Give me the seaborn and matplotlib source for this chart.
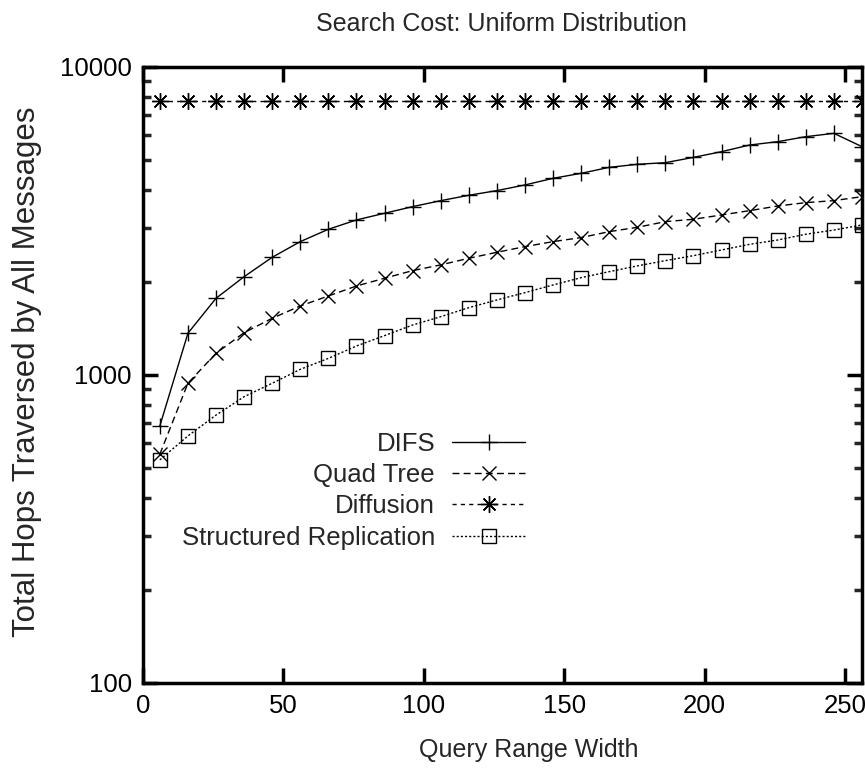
import matplotlib
matplotlib.use("Agg")
import matplotlib.pyplot as plt
import seaborn as sns
import pandas as pd
import numpy as np
from matplotlib.ticker import LogLocator, FixedLocator, NullFormatter

x_values = [6, 16, 26, 36, 46, 56, 66, 76, 86, 96, 106, 116, 126, 136, 146,
            156, 166, 176, 186, 196, 206, 216, 226, 236, 246, 256]

difs = [683, 1366, 1774, 2085, 2410, 2710, 2972, 3187, 3350, 3520, 3681, 3832,
        3968, 4140, 4350, 4516, 4722, 4831, 4890, 5088, 5309, 5580, 5721, 5939,
        6089, 5513]
quad_tree = [553, 940, 1176, 1372, 1528, 1675, 1805, 1945, 2061, 2182, 2277,
             2393, 2502, 2611, 2710, 2793, 2920, 3016, 3147, 3203, 3308, 3416,
             3537, 3627, 3682, 3793]
diffusion = [7750] * 26
structured = [530, 634, 741, 850, 940, 1043, 1132, 1242, 1342, 1453, 1546, 1654,
              1752, 1851, 1960, 2070, 2165, 2260, 2351, 2440, 2546, 2656, 2743,
              2864, 2955, 3070]

series_names = ["DIFS", "Quad Tree", "Diffusion", "Structured Replication"]
series_values = [difs, quad_tree, diffusion, structured]

x_ticks = [0, 50, 100, 150, 200, 250]
y_ticks = [100, 1000, 10000]
y_tick_labels = ["100", "1000", "10000"]

sns.set_style("ticks")
plt.rcParams['font.family'] = ['Liberation Sans', 'DejaVu Sans']

rows = []
for name, vals in zip(series_names, series_values):
    for xv, yv in zip(x_values, vals):
        rows.append({"x": xv, "y": yv, "series": name})
df = pd.DataFrame(rows)

fig = plt.figure(figsize=(8.65, 7.77), dpi=100)
ax = fig.add_axes([0.1653, 0.121, 0.8312, 0.7928])

styles = {
    "DIFS": dict(marker="+", linestyle="-", ms=12),
    "Quad Tree": dict(marker="x", linestyle=(0, (5, 3)), ms=10),
    "Diffusion": dict(marker=(8, 2, 0), linestyle=(0, (3, 3)), ms=12),
    "Structured Replication": dict(marker="s", linestyle=(0, (1.5, 1.5)), ms=10),
}

for name in series_names:
    st = styles[name]
    sub = df[df["series"] == name]
    sns.lineplot(data=sub, x="x", y="y", ax=ax, color="black", lw=1.0,
                 linestyle=st["linestyle"], marker=st["marker"], markersize=st["ms"],
                 markeredgewidth=1.0, markerfacecolor="none",
                 markeredgecolor="black", label=name, estimator=None,
                 sort=False, legend=False)

ax.set_yscale("log")
ax.set_xlim(0, 256)
ax.set_ylim(100, 10000)
ax.set_xticks(x_ticks)
ax.set_xticklabels([str(t) for t in x_ticks])
ax.yaxis.set_major_locator(FixedLocator(y_ticks))
ax.set_yticklabels(y_tick_labels)
ax.yaxis.set_minor_locator(LogLocator(base=10, subs=np.arange(2, 10)))
ax.yaxis.set_minor_formatter(NullFormatter())

for sp in ax.spines.values():
    sp.set_linewidth(2.5)
    sp.set_color("black")
    sp.set_visible(True)

ax.tick_params(axis="both", which="major", direction="in", length=11, width=2.5,
               top=True, right=True, labelsize=18.5, pad=8, colors="black")
ax.tick_params(axis="y", which="minor", direction="in", length=6, width=2.5,
               right=True, left=True)

ax.set_xlabel("Query Range Width", fontsize=18, labelpad=14)
ax.xaxis.set_label_coords(0.537, -0.09)
ax.set_ylabel("Total Hops Traversed by All Messages", fontsize=22.5)
ax.yaxis.set_label_coords(-0.14, 0.505)
fig.suptitle("Search Cost: Uniform Distribution", fontsize=18, x=0.58, y=0.985)

handles, labels = ax.get_legend_handles_labels()
leg = ax.legend(handles, labels, loc="center left", bbox_to_anchor=(0.054, 0.312),
                frameon=False, markerfirst=False, fontsize=18.5, handlelength=2.85,
                handletextpad=0.66, labelspacing=0.28, borderaxespad=0, borderpad=0)
for t in leg.get_texts():
    t.set_ha("right")

fig.savefig("out.png", dpi=100)
